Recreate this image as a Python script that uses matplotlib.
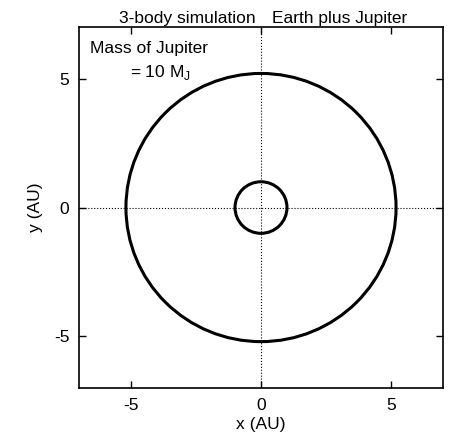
import matplotlib
matplotlib.use("Agg")
import matplotlib.pyplot as plt
from matplotlib.patches import Circle

# orbit radii in AU: Earth, Jupiter
orbit_names = ["Earth", "Jupiter"]
orbit_radii = [1.0, 5.2]
ticks = [-5, 0, 5]

plt.rcParams['font.family'] = ['Liberation Sans', 'DejaVu Sans']
plt.rcParams['font.size'] = 12.5
plt.rcParams['axes.unicode_minus'] = False
plt.rcParams['mathtext.fontset'] = 'custom'
plt.rcParams['mathtext.rm'] = 'Liberation Sans'

fig = plt.figure(figsize=(4.5, 4.36), dpi=100)
ax = fig.add_axes([0.176, 0.110, 0.808, 0.828])

for r in orbit_radii:
    ax.add_patch(Circle((0, 0), r, fill=False, color="black", lw=2.2))

ax.axhline(0, color="black", lw=0.8, ls=":")
ax.axvline(0, color="black", lw=0.8, ls=":")

ax.set_xlim(-7, 7)
ax.set_ylim(-7, 7)
ax.set_xticks(ticks)
ax.set_yticks(ticks)
ax.tick_params(direction="in", top=True, right=True, length=5, width=1, labelsize=12.5, pad=7)
for s in ax.spines.values():
    s.set_linewidth(1.2)

ax.set_xlabel("x (AU)", fontsize=12.5, labelpad=3)
ax.set_ylabel("y (AU)", fontsize=12.5, labelpad=8)

ax.text(0.297, 1.003, "3-body simulation", transform=ax.transAxes, ha="center", va="bottom")
ax.text(0.717, 1.003, "Earth plus Jupiter", transform=ax.transAxes, ha="center", va="bottom")

ax.text(0.03, 0.96, "Mass of Jupiter", transform=ax.transAxes, ha="left", va="top")
ax.text(0.14, 0.90, "= 10 M$_\\mathregular{J}$", transform=ax.transAxes, ha="left", va="top")

fig.savefig("out.png", dpi=100)
